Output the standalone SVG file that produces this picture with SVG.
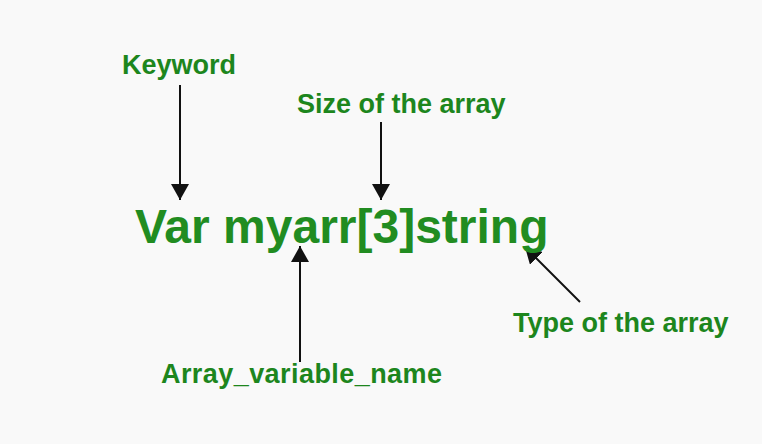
<svg xmlns="http://www.w3.org/2000/svg" width="762" height="444" viewBox="0 0 762 444">
<style>
.lbl{font-family:"Liberation Sans",Arial,sans-serif;font-weight:bold;font-size:27px;fill:#1d861d}
.main{font-family:"Liberation Sans",Arial,sans-serif;font-weight:bold;font-size:48px;fill:#218c21}
.arr{stroke:#111;stroke-width:2;fill:none;marker-end:url(#ah)}
</style>
<defs>
<marker id="ah" markerWidth="9" markerHeight="9" refX="8" refY="4.5" orient="auto" markerUnits="strokeWidth">
<path d="M0,0 L8,4.5 L0,9 Z" fill="#111"/>
</marker>
</defs>
<rect width="762" height="444" fill="#f9f9f9"/>
<g id="connectors">
<line class="arr" x1="180" y1="85" x2="180" y2="200"/>
<line class="arr" x1="381" y1="122" x2="381" y2="200"/>
<line class="arr" x1="300" y1="362" x2="300" y2="246"/>
<line class="arr" x1="580" y1="302" x2="525" y2="247"/>
</g>
<g id="keyword"><text class="lbl" x="122" y="74">Keyword</text></g>
<g id="size"><text class="lbl" x="297" y="113">Size of the array</text></g>
<g id="decl"><text class="main" x="135" y="243">Var myarr[3]string</text></g>
<g id="type"><text class="lbl" x="513" y="332">Type of the array</text></g>
<g id="name"><text class="lbl" x="161" y="383" textLength="281" lengthAdjust="spacing">Array_variable_name</text></g>
</svg>
